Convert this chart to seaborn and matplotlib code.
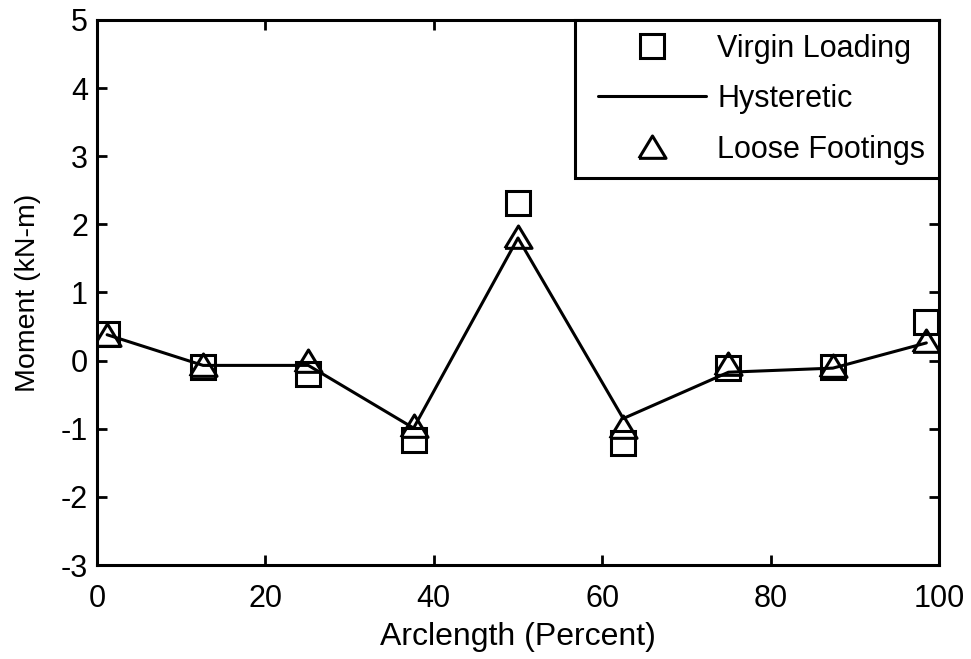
import matplotlib
matplotlib.use("Agg")
import matplotlib.pyplot as plt
from matplotlib.lines import Line2D
from matplotlib.legend_handler import HandlerLine2D
import seaborn as sns
import pandas as pd

arclength = [1.2, 12.6, 25.1, 37.6, 50.0, 62.5, 75.0, 87.4, 98.5]
virgin_loading = [0.39, -0.09, -0.20, -1.17, 2.31, -1.21, -0.11, -0.10, 0.57]
hysteretic = [0.38, -0.07, -0.07, -0.99, 1.80, -0.85, -0.17, -0.11, 0.26]
loose_footings = [0.38, -0.07, 0.00, -0.96, 1.82, -0.98, -0.05, -0.08, 0.29]

x_ticks = [0, 20, 40, 60, 80, 100]
y_ticks = [-3, -2, -1, 0, 1, 2, 3, 4, 5]

sns.set_style("white")
plt.rcParams['font.family'] = ['Liberation Sans', 'DejaVu Sans']
plt.rcParams['axes.unicode_minus'] = False
for k in ['text.color', 'axes.labelcolor', 'xtick.color', 'ytick.color']:
    plt.rcParams[k] = 'black'

fig = plt.figure(figsize=(9.71, 6.59), dpi=100)
ax = fig.add_axes([0.0999, 0.1426, 0.967 - 0.0999, 0.9697 - 0.1426])

df = pd.DataFrame({"x": arclength, "v": virgin_loading, "h": hysteretic, "l": loose_footings})

tri = [(-1, -0.8), (1, -0.8), (0, 0.85), (-1, -0.8)]

sns.lineplot(data=df, x="x", y="v", ax=ax, marker="s", linestyle="none",
             markersize=17.5, markerfacecolor="none", markeredgecolor="black",
             markeredgewidth=2.2, color="black", label="Virgin Loading")
sns.lineplot(data=df, x="x", y="h", ax=ax, color="black", linewidth=2.2,
             label="Hysteretic")
sns.lineplot(data=df, x="x", y="l", ax=ax, marker=tri, linestyle="none",
             markersize=19.5, markerfacecolor="none", markeredgecolor="black",
             markeredgewidth=2.2, color="black", label="Loose Footings")

ax.set_xlim(0, 100)
ax.set_ylim(-3, 5)
ax.set_xticks(x_ticks)
ax.set_yticks(y_ticks)
ax.set_xlabel("Arclength (Percent)", fontsize=23, labelpad=6)
ax.set_ylabel("Moment (kN-m)", fontsize=20.5, labelpad=14)
ax.tick_params(direction="in", length=7, width=2.0, labelsize=22,
               top=True, right=True, bottom=True, left=True)
ax.tick_params(axis='x', pad=13.5)
ax.tick_params(axis='y', pad=6.5)
for s in ax.spines.values():
    s.set_linewidth(2.2)
    s.set_color("black")

leg = ax.legend(loc="upper right", fontsize=22, frameon=True, fancybox=False,
                edgecolor="black", framealpha=1, handlelength=3.86,
                handletextpad=0.36, labelspacing=0.67, borderpad=0.45,
                borderaxespad=0.0,
                handler_map={Line2D: HandlerLine2D(xpad=0.33)})
leg.get_frame().set_linewidth(2.2)

fig.savefig("out.png", dpi=100, facecolor="white")
